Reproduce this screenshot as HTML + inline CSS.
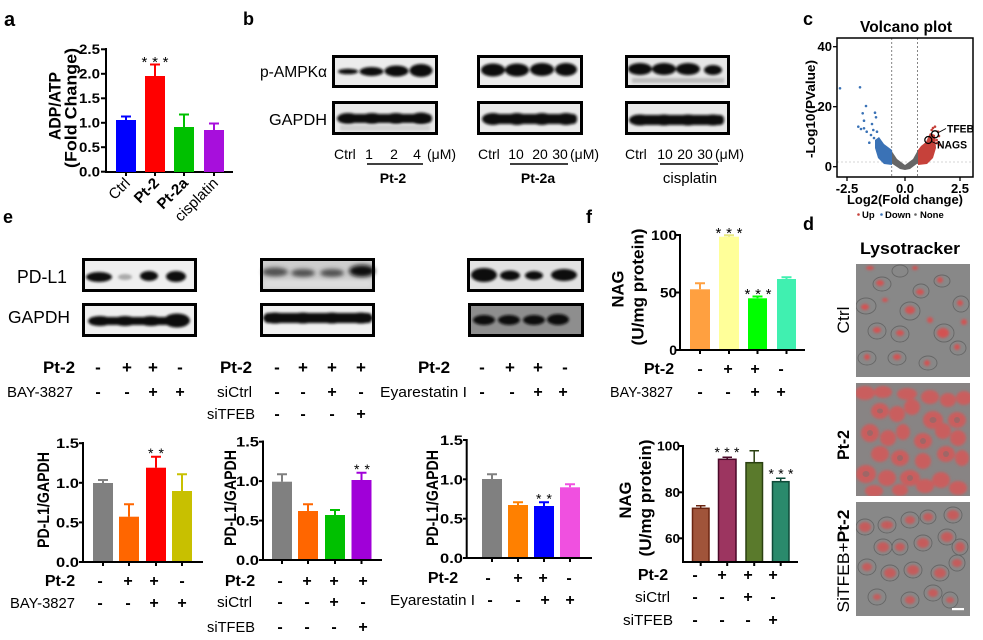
<!DOCTYPE html>
<html><head><meta charset="utf-8">
<style>
html,body{margin:0;padding:0;background:#fff;}
svg{display:block;}
text{font-family:"Liberation Sans",Arial,sans-serif;fill:#000;}
.b{font-weight:bold;}
</style></head>
<body>
<svg width="983" height="640" viewBox="0 0 983 640" xmlns="http://www.w3.org/2000/svg">
<defs>
<filter id="bl" x="-20%" y="-50%" width="140%" height="200%"><feGaussianBlur stdDeviation="1.2"/></filter>
<filter id="bl2" x="-20%" y="-50%" width="140%" height="200%"><feGaussianBlur stdDeviation="2.2"/></filter>
<clipPath id="c1"><rect x="856" y="264" width="114" height="113"/></clipPath>
<clipPath id="c2"><rect x="856" y="383" width="114" height="113"/></clipPath>
<clipPath id="c3"><rect x="856" y="502" width="114" height="114"/></clipPath>
</defs>

<!-- ================= PANEL a ================= -->
<text x="4" y="26" class="b" font-size="20">a</text>
<g stroke="#000" stroke-width="2">
<line x1="106" y1="48" x2="106" y2="173"/>
<line x1="105" y1="172" x2="233" y2="172"/>
<line x1="101" y1="49.3" x2="106" y2="49.3"/>
<line x1="101" y1="73.8" x2="106" y2="73.8"/>
<line x1="101" y1="98.3" x2="106" y2="98.3"/>
<line x1="101" y1="122.8" x2="106" y2="122.8"/>
<line x1="101" y1="147.2" x2="106" y2="147.2"/>
<line x1="101" y1="171.7" x2="106" y2="171.7"/>
<line x1="126" y1="172" x2="126" y2="176"/>
<line x1="155" y1="172" x2="155" y2="176"/>
<line x1="184" y1="172" x2="184" y2="176"/>
<line x1="214" y1="172" x2="214" y2="176"/>
</g>
<g class="b" font-size="13.5" text-anchor="end">
<text x="100" y="54" textLength="21" lengthAdjust="spacingAndGlyphs">2.5</text>
<text x="100" y="78.5" textLength="21" lengthAdjust="spacingAndGlyphs">2.0</text>
<text x="100" y="103" textLength="21" lengthAdjust="spacingAndGlyphs">1.5</text>
<text x="100" y="127.5" textLength="21" lengthAdjust="spacingAndGlyphs">1.0</text>
<text x="100" y="152" textLength="21" lengthAdjust="spacingAndGlyphs">0.5</text>
<text x="100" y="176.5" textLength="21" lengthAdjust="spacingAndGlyphs">0.0</text>
</g>
<rect x="116" y="120" width="20" height="52" fill="#0000ff"/>
<rect x="145" y="76" width="20" height="96" fill="#ff0000"/>
<rect x="174" y="127" width="20" height="45" fill="#00c000"/>
<rect x="204" y="130" width="20" height="42" fill="#a70fdc"/>
<g stroke-width="2">
<path d="M126 120V116.5M121 116.5H131" stroke="#0000ff"/>
<path d="M155 76V64.5M150 64.5H160" stroke="#ff0000"/>
<path d="M184 127V114.5M179 114.5H189" stroke="#00c000"/>
<path d="M214 130V123.5M209 123.5H219" stroke="#a70fdc"/>
</g>
<text x="155" y="67" font-size="15" text-anchor="middle" textLength="27" lengthAdjust="spacing">***</text>
<text transform="translate(55,106) scale(1.1,1) rotate(-90)" y="5" class="b" font-size="15" text-anchor="middle" textLength="68" lengthAdjust="spacingAndGlyphs">ADP/ATP</text>
<text transform="translate(71,108) scale(1.1,1) rotate(-90)" y="5" class="b" font-size="15" text-anchor="middle" textLength="120" lengthAdjust="spacingAndGlyphs">(Fold Change)</text>
<g font-size="15">
<text transform="translate(131,184) rotate(-45)" text-anchor="end">Ctrl</text>
<text transform="translate(160,184) rotate(-45)" text-anchor="end" class="b">Pt-2</text>
<text transform="translate(189,184) rotate(-45)" text-anchor="end" class="b">Pt-2a</text>
<text transform="translate(219,184) rotate(-45)" text-anchor="end">cisplatin</text>
</g>

<!-- ================= PANEL b ================= -->
<text x="243" y="25" class="b" font-size="18">b</text>
<text x="327" y="77" font-size="16" text-anchor="end" textLength="67" lengthAdjust="spacingAndGlyphs">p-AMPKα</text>
<text x="327" y="125" font-size="16" text-anchor="end" textLength="58" lengthAdjust="spacingAndGlyphs">GAPDH</text>
<!-- box1 -->
<rect x="333.5" y="56.5" width="103" height="30" fill="#ececec"/>
<g fill="#111" filter="url(#bl)">
<ellipse cx="348" cy="71.5" rx="10" ry="2.8"/>
<ellipse cx="371.5" cy="71.5" rx="12" ry="4.5"/>
<ellipse cx="396.5" cy="71" rx="12" ry="5.5"/>
<ellipse cx="421" cy="70.5" rx="11.5" ry="6.5"/>
</g>
<rect x="333.5" y="56.5" width="103" height="30" fill="none" stroke="#000" stroke-width="3"/>
<rect x="333.5" y="102.5" width="103" height="31" fill="#eaeaea"/>
<g fill="#111" filter="url(#bl)">
<rect x="339" y="114" width="93" height="9" rx="4"/>
<ellipse cx="348" cy="118.5" rx="11" ry="5.5"/>
<ellipse cx="372" cy="118.5" rx="11" ry="5.5"/>
<ellipse cx="396" cy="118.5" rx="11" ry="5.5"/>
<ellipse cx="421" cy="118.5" rx="11" ry="6"/>
</g>
<rect x="340" y="125" width="90" height="6" fill="#cfcfcf" filter="url(#bl)"/>
<rect x="333.5" y="102.5" width="103" height="31" fill="none" stroke="#000" stroke-width="3"/>
<!-- box2 -->
<rect x="478.5" y="56.5" width="103" height="30" fill="#ececec"/>
<g fill="#111" filter="url(#bl)">
<ellipse cx="493" cy="70" rx="12" ry="6.5"/>
<ellipse cx="517" cy="70" rx="12" ry="6.5"/>
<ellipse cx="542" cy="69.5" rx="12" ry="6.5"/>
<ellipse cx="566" cy="69.5" rx="11" ry="6.5"/>
</g>
<rect x="478.5" y="56.5" width="103" height="30" fill="none" stroke="#000" stroke-width="3"/>
<rect x="478.5" y="102.5" width="103" height="31" fill="#eaeaea"/>
<g fill="#111" filter="url(#bl)">
<rect x="484" y="114" width="93" height="10" rx="4"/>
<ellipse cx="493" cy="119" rx="11" ry="6"/>
<ellipse cx="517" cy="119" rx="11" ry="6"/>
<ellipse cx="542" cy="119" rx="11" ry="6"/>
<ellipse cx="566" cy="119" rx="11" ry="6"/>
</g>
<rect x="478.5" y="102.5" width="103" height="31" fill="none" stroke="#000" stroke-width="3"/>
<!-- box3 -->
<rect x="626.5" y="56.5" width="102" height="30" fill="#e6e6e6"/>
<g fill="#111" filter="url(#bl)">
<ellipse cx="640" cy="69" rx="12" ry="6"/>
<ellipse cx="664" cy="69" rx="12" ry="6"/>
<ellipse cx="688" cy="69" rx="12" ry="6"/>
<ellipse cx="713" cy="70" rx="9" ry="5"/>
</g>
<rect x="632" y="78" width="92" height="5" fill="#bbb" filter="url(#bl)"/>
<rect x="626.5" y="56.5" width="102" height="30" fill="none" stroke="#000" stroke-width="3"/>
<rect x="626.5" y="102.5" width="102" height="31" fill="#eaeaea"/>
<g fill="#111" filter="url(#bl)">
<rect x="632" y="115" width="92" height="10" rx="4"/>
<ellipse cx="640" cy="120" rx="11" ry="5.5"/>
<ellipse cx="664" cy="120" rx="11" ry="5.5"/>
<ellipse cx="688" cy="120" rx="11" ry="5.5"/>
<ellipse cx="713" cy="120" rx="11" ry="5.5"/>
</g>
<rect x="626.5" y="102.5" width="102" height="31" fill="none" stroke="#000" stroke-width="3"/>
<!-- b labels -->
<g font-size="14">
<text x="334" y="159">Ctrl</text><text x="369" y="159" text-anchor="middle">1</text><text x="394" y="159" text-anchor="middle">2</text><text x="417" y="159" text-anchor="middle">4</text><text x="427" y="159">(μM)</text>
<text x="478" y="159">Ctrl</text><text x="516" y="159" text-anchor="middle">10</text><text x="540" y="159" text-anchor="middle">20</text><text x="560" y="159" text-anchor="middle">30</text><text x="570" y="159">(μM)</text>
<text x="625" y="159">Ctrl</text><text x="665" y="159" text-anchor="middle">10</text><text x="685" y="159" text-anchor="middle">20</text><text x="705" y="159" text-anchor="middle">30</text><text x="715" y="159">(μM)</text>
</g>
<g stroke="#000" stroke-width="1.5">
<line x1="367" y1="164" x2="423" y2="164"/>
<line x1="510" y1="164" x2="568" y2="164"/>
<line x1="660" y1="164" x2="718" y2="164"/>
</g>
<text x="393" y="183" class="b" font-size="14" text-anchor="middle">Pt-2</text>
<text x="538" y="183" class="b" font-size="14" text-anchor="middle">Pt-2a</text>
<text x="690" y="183" font-size="15" text-anchor="middle">cisplatin</text>

<!-- ================= PANEL c ================= -->
<text x="803" y="25" class="b" font-size="18">c</text>
<text x="906" y="32" class="b" font-size="15.5" text-anchor="middle" textLength="92" lengthAdjust="spacingAndGlyphs">Volcano plot</text>
<line x1="837" y1="162" x2="973" y2="162" stroke="#c8c8c8" stroke-width="0.8" stroke-dasharray="2,2"/>
<line x1="891.7" y1="38" x2="891.7" y2="177" stroke="#777" stroke-width="0.9" stroke-dasharray="2,2"/>
<line x1="917.5" y1="38" x2="917.5" y2="177" stroke="#777" stroke-width="0.9" stroke-dasharray="2,2"/>
<polygon points="891,150 897,159 905,165 913,159 918,150 918,163 910,169 905,170 900,169 891,163" fill="#666"/>
<polygon points="892,150 892,165 884,164 878,158 875,148 875,140 879,137 884,144 888,147" fill="#3a72b6"/>
<polygon points="918,150 918,165 927,164 933,158 936,148 935,135 930,133 926,142 921,146" fill="#c6413a"/>
<g fill="#3a72b6">
<circle cx="840" cy="88.3" r="1.3"/><circle cx="860" cy="87.3" r="1.3"/><circle cx="866" cy="106" r="1.3"/>
<circle cx="862.7" cy="113.3" r="1.3"/><circle cx="875" cy="112.7" r="1.3"/><circle cx="876" cy="117.3" r="1.3"/>
<circle cx="864" cy="120.7" r="1.3"/><circle cx="858.3" cy="126.7" r="1.3"/><circle cx="864" cy="128.3" r="1.3"/>
<circle cx="873.3" cy="130" r="1.3"/><circle cx="869.3" cy="142.7" r="1.3"/><circle cx="877" cy="131.7" r="1.3"/>
<circle cx="866.7" cy="131.7" r="1.3"/><circle cx="871" cy="135" r="1.3"/><circle cx="874" cy="138" r="1.3"/>
<circle cx="861" cy="129" r="1.3"/><circle cx="872" cy="124" r="1.3"/>
</g>
<g fill="#c6413a">
<circle cx="935" cy="126.7" r="1.3"/><circle cx="938" cy="131.7" r="1.3"/><circle cx="931.7" cy="130" r="1.3"/>
<circle cx="936.7" cy="140" r="1.3"/><circle cx="940" cy="145" r="1.3"/><circle cx="933" cy="128" r="1.3"/>
<circle cx="939" cy="136" r="1.3"/><circle cx="937" cy="143" r="1.3"/>
</g>
<circle cx="935" cy="134.3" r="3.5" fill="none" stroke="#000" stroke-width="1.3"/>
<circle cx="928.3" cy="140" r="3.5" fill="none" stroke="#000" stroke-width="1.3"/>
<line x1="938.5" y1="132.5" x2="946" y2="128.5" stroke="#000" stroke-width="0.8"/>
<line x1="931.5" y1="141.5" x2="937" y2="144" stroke="#000" stroke-width="0.8"/>
<text x="947" y="132.5" class="b" font-size="11" textLength="27" lengthAdjust="spacingAndGlyphs">TFEB</text>
<text x="937" y="148.5" class="b" font-size="11" textLength="30" lengthAdjust="spacingAndGlyphs">NAGS</text>
<rect x="837" y="38" width="136" height="139" fill="none" stroke="#000" stroke-width="1.5"/>
<g stroke="#000" stroke-width="1.3">
<line x1="833" y1="46.7" x2="837" y2="46.7"/><line x1="833" y1="106.7" x2="837" y2="106.7"/><line x1="833" y1="166.7" x2="837" y2="166.7"/>
<line x1="847" y1="177" x2="847" y2="181"/><line x1="905" y1="177" x2="905" y2="181"/><line x1="960" y1="177" x2="960" y2="181"/>
</g>
<g class="b" font-size="13">
<text x="832" y="51" text-anchor="end">40</text>
<text x="832" y="111" text-anchor="end">20</text>
<text x="832" y="171" text-anchor="end">0</text>
<text x="847" y="193" text-anchor="middle">-2.5</text>
<text x="905" y="193" text-anchor="middle">0.0</text>
<text x="960" y="193" text-anchor="middle">2.5</text>
</g>
<text x="905" y="204" class="b" font-size="13" text-anchor="middle" textLength="116" lengthAdjust="spacingAndGlyphs">Log2(Fold change)</text>
<text transform="translate(810,109) rotate(-90)" y="5" class="b" font-size="13" text-anchor="middle" textLength="98" lengthAdjust="spacingAndGlyphs">-Log10(PValue)</text>
<circle cx="858.5" cy="214.5" r="1.3" fill="#c6413a"/>
<circle cx="881.5" cy="214.5" r="1.3" fill="#3a72b6"/>
<circle cx="915.5" cy="214.5" r="1.3" fill="#666"/>
<g class="b" font-size="9.5">
<text x="862" y="218">Up</text><text x="885" y="218">Down</text><text x="920" y="218">None</text>
</g>

<!-- ================= PANEL e ================= -->
<text x="3" y="223" class="b" font-size="18">e</text>
<text x="67" y="283" font-size="18" text-anchor="end" textLength="50" lengthAdjust="spacingAndGlyphs">PD-L1</text>
<text x="70" y="323" font-size="17.5" text-anchor="end" textLength="62" lengthAdjust="spacingAndGlyphs">GAPDH</text>
<!-- e box1 -->
<rect x="83.5" y="259.5" width="112" height="31" fill="#efefef"/>
<g fill="#111" filter="url(#bl)">
<ellipse cx="99" cy="277" rx="13" ry="5"/>
<ellipse cx="149" cy="276" rx="9" ry="5"/>
<ellipse cx="176" cy="276.5" rx="10" ry="5.5"/>
</g>
<ellipse cx="125" cy="277" rx="7" ry="3" fill="#aaa" filter="url(#bl)"/>
<rect x="83.5" y="259.5" width="112" height="31" fill="none" stroke="#000" stroke-width="3"/>
<rect x="83.5" y="304.5" width="112" height="31" fill="#efefef"/>
<g fill="#111" filter="url(#bl)">
<rect x="89" y="317" width="100" height="8" rx="4"/>
<ellipse cx="100" cy="321" rx="12" ry="5"/>
<ellipse cx="125" cy="321" rx="12" ry="5"/>
<ellipse cx="151" cy="321" rx="12" ry="5"/>
<ellipse cx="177" cy="320.5" rx="13" ry="7"/>
</g>
<rect x="83.5" y="304.5" width="112" height="31" fill="none" stroke="#000" stroke-width="3"/>
<!-- e box2 -->
<rect x="261.5" y="259.5" width="112" height="31" fill="#cdcdcd"/>
<g fill="#333" filter="url(#bl2)" opacity="0.8">
<ellipse cx="275" cy="272" rx="13" ry="4.5"/>
<ellipse cx="303" cy="273" rx="12" ry="4"/>
<ellipse cx="332" cy="273" rx="12" ry="4"/>
</g>
<ellipse cx="362" cy="271" rx="13" ry="6" fill="#111" filter="url(#bl2)"/>
<rect x="263" y="280" width="109" height="8" fill="#e8e8e8" opacity="0.6" filter="url(#bl2)"/>
<rect x="261.5" y="259.5" width="112" height="31" fill="none" stroke="#000" stroke-width="3"/>
<rect x="261.5" y="304.5" width="112" height="31" fill="#f0f0f0"/>
<g fill="#111" filter="url(#bl)">
<rect x="264" y="313" width="108" height="10" rx="4"/>
<ellipse cx="275" cy="318" rx="12" ry="5.5"/>
<ellipse cx="303" cy="318" rx="12" ry="5.5"/>
<ellipse cx="332" cy="318" rx="12" ry="5.5"/>
<ellipse cx="361" cy="318" rx="12" ry="5.5"/>
</g>
<rect x="261.5" y="304.5" width="112" height="31" fill="none" stroke="#000" stroke-width="3"/>
<!-- e box3 -->
<rect x="468.5" y="259.5" width="114" height="31" fill="#e2e2e2"/>
<g fill="#111" filter="url(#bl)">
<ellipse cx="484" cy="275" rx="13" ry="7"/>
<ellipse cx="510" cy="275.5" rx="10" ry="5"/>
<ellipse cx="534" cy="275.5" rx="9" ry="4.5"/>
<ellipse cx="564" cy="275" rx="13" ry="6"/>
</g>
<rect x="468.5" y="259.5" width="114" height="31" fill="none" stroke="#000" stroke-width="3"/>
<rect x="469.5" y="304.5" width="113" height="31" fill="#8e8e8e"/>
<g fill="#111" filter="url(#bl)">
<ellipse cx="484" cy="320" rx="11" ry="5"/>
<ellipse cx="509" cy="320" rx="11" ry="5"/>
<ellipse cx="534" cy="320" rx="11" ry="5"/>
<ellipse cx="558" cy="319.5" rx="11" ry="5.5"/>
</g>
<rect x="469.5" y="304.5" width="113" height="31" fill="none" stroke="#000" stroke-width="3"/>
<!-- e condition rows (top) -->
<g class="b" font-size="17" text-anchor="middle">
<text x="59" y="373">Pt-2</text>
<text x="98" y="373">-</text><text x="127" y="373">+</text><text x="153" y="373">+</text><text x="180" y="373">-</text>
<text x="236" y="373">Pt-2</text>
<text x="277" y="373">-</text><text x="303" y="373">+</text><text x="332" y="373">+</text><text x="361" y="373">+</text>
<text x="434" y="373">Pt-2</text>
<text x="482" y="373">-</text><text x="510" y="373">+</text><text x="538" y="373">+</text><text x="565" y="373">-</text>
</g>
<g font-size="15" text-anchor="end">
<text x="73" y="397" textLength="66" lengthAdjust="spacingAndGlyphs">BAY-3827</text>
<text x="252" y="397" textLength="35" lengthAdjust="spacingAndGlyphs">siCtrl</text>
<text x="255" y="419" textLength="48" lengthAdjust="spacingAndGlyphs">siTFEB</text>
<text x="467" y="397" textLength="87" lengthAdjust="spacingAndGlyphs">Eyarestatin I</text>
</g>
<g class="b" font-size="16" text-anchor="middle">
<text x="98" y="397">-</text><text x="127" y="397">-</text><text x="153" y="397">+</text><text x="180" y="397">+</text>
<text x="277" y="397">-</text><text x="303" y="397">-</text><text x="332" y="397">+</text><text x="361" y="397">-</text>
<text x="277" y="419">-</text><text x="303" y="419">-</text><text x="332" y="419">-</text><text x="361" y="419">+</text>
<text x="482" y="397">-</text><text x="512" y="397">-</text><text x="538" y="397">+</text><text x="563" y="397">+</text>
</g>

<!-- e chart1 -->
<rect x="93" y="483" width="20" height="79" fill="#808080"/>
<rect x="119" y="516.7" width="20" height="45.3" fill="#ff6600"/>
<rect x="146" y="467.7" width="20" height="94.3" fill="#ff0000"/>
<rect x="172" y="491" width="20" height="71" fill="#c8c000"/>
<g stroke-width="2">
<path d="M103 483V480M98 480H108" stroke="#808080"/>
<path d="M129 516.7V504.3M124 504.3H134" stroke="#ff6600"/>
<path d="M156 467.7V456.7M151 456.7H161" stroke="#ff0000"/>
<path d="M182 491V474.3M177 474.3H187" stroke="#c8c000"/>
</g>
<g stroke="#000" stroke-width="2">
<line x1="83" y1="442" x2="83" y2="563"/>
<line x1="82" y1="562" x2="203" y2="562"/>
<line x1="79" y1="443.2" x2="83" y2="443.2"/><line x1="79" y1="482.8" x2="83" y2="482.8"/>
<line x1="79" y1="522.4" x2="83" y2="522.4"/><line x1="79" y1="562" x2="83" y2="562"/>
<line x1="103" y1="562" x2="103" y2="566"/><line x1="129" y1="562" x2="129" y2="566"/>
<line x1="156" y1="562" x2="156" y2="566"/><line x1="182" y1="562" x2="182" y2="566"/>
</g>
<g class="b" font-size="14" text-anchor="end">
<text x="79" y="448.2" textLength="23" lengthAdjust="spacingAndGlyphs">1.5</text>
<text x="79" y="487.8" textLength="23" lengthAdjust="spacingAndGlyphs">1.0</text>
<text x="79" y="527.4" textLength="23" lengthAdjust="spacingAndGlyphs">0.5</text>
<text x="79" y="567" textLength="23" lengthAdjust="spacingAndGlyphs">0.0</text>
</g>
<text x="156" y="458" font-size="14" text-anchor="middle" textLength="16" lengthAdjust="spacing">**</text>
<text transform="translate(43,500) scale(1.2,1) rotate(-90)" y="5" class="b" font-size="14" text-anchor="middle" textLength="96" lengthAdjust="spacingAndGlyphs">PD-L1/GAPDH</text>

<!-- e chart2 -->
<rect x="272" y="481.7" width="20" height="78.3" fill="#808080"/>
<rect x="298" y="511" width="20" height="49" fill="#ff6600"/>
<rect x="325" y="515" width="20" height="45" fill="#00c000"/>
<rect x="351.5" y="480" width="20" height="80" fill="#a000d8"/>
<g stroke-width="2">
<path d="M282 481.7V474.3M277 474.3H287" stroke="#808080"/>
<path d="M308 511V504.3M303 504.3H313" stroke="#ff6600"/>
<path d="M335 515V510M330 510H340" stroke="#00c000"/>
<path d="M361.5 480V472.7M356.5 472.7H366.5" stroke="#a000d8"/>
</g>
<g stroke="#000" stroke-width="2">
<line x1="263" y1="440.5" x2="263" y2="561"/>
<line x1="262" y1="560" x2="382" y2="560"/>
<line x1="259" y1="441.7" x2="263" y2="441.7"/><line x1="259" y1="481.1" x2="263" y2="481.1"/>
<line x1="259" y1="520.6" x2="263" y2="520.6"/><line x1="259" y1="560" x2="263" y2="560"/>
<line x1="282" y1="560" x2="282" y2="564"/><line x1="308" y1="560" x2="308" y2="564"/>
<line x1="335" y1="560" x2="335" y2="564"/><line x1="361.5" y1="560" x2="361.5" y2="564"/>
</g>
<g class="b" font-size="14" text-anchor="end">
<text x="259" y="446.7" textLength="23" lengthAdjust="spacingAndGlyphs">1.5</text>
<text x="259" y="486.1" textLength="23" lengthAdjust="spacingAndGlyphs">1.0</text>
<text x="259" y="525.6" textLength="23" lengthAdjust="spacingAndGlyphs">0.5</text>
<text x="259" y="565" textLength="23" lengthAdjust="spacingAndGlyphs">0.0</text>
</g>
<text x="362" y="474" font-size="14" text-anchor="middle" textLength="16" lengthAdjust="spacing">**</text>
<text transform="translate(230,498) scale(1.2,1) rotate(-90)" y="5" class="b" font-size="14" text-anchor="middle" textLength="96" lengthAdjust="spacingAndGlyphs">PD-L1/GAPDH</text>

<!-- e chart3 -->
<rect x="482" y="479" width="20" height="79" fill="#808080"/>
<rect x="508" y="505" width="20" height="53" fill="#ff8000"/>
<rect x="534" y="506" width="20" height="52" fill="#0000ff"/>
<rect x="560" y="487.3" width="20" height="70.7" fill="#f050e0"/>
<g stroke-width="2">
<path d="M492 479V474.3M487 474.3H497" stroke="#808080"/>
<path d="M518 505V502.3M513 502.3H523" stroke="#ff8000"/>
<path d="M544 506V502.3M539 502.3H549" stroke="#0000ff"/>
<path d="M570 487.3V484.3M565 484.3H575" stroke="#f050e0"/>
</g>
<g stroke="#000" stroke-width="2">
<line x1="466.7" y1="439" x2="466.7" y2="559"/>
<line x1="466" y1="558" x2="592" y2="558"/>
<line x1="463" y1="440" x2="466.7" y2="440"/><line x1="463" y1="479.3" x2="466.7" y2="479.3"/>
<line x1="463" y1="518.7" x2="466.7" y2="518.7"/><line x1="463" y1="558" x2="466.7" y2="558"/>
<line x1="492" y1="558" x2="492" y2="562"/><line x1="518" y1="558" x2="518" y2="562"/>
<line x1="544" y1="558" x2="544" y2="562"/><line x1="570" y1="558" x2="570" y2="562"/>
</g>
<g class="b" font-size="14" text-anchor="end">
<text x="463" y="445" textLength="23" lengthAdjust="spacingAndGlyphs">1.5</text>
<text x="463" y="484.3" textLength="23" lengthAdjust="spacingAndGlyphs">1.0</text>
<text x="463" y="523.7" textLength="23" lengthAdjust="spacingAndGlyphs">0.5</text>
<text x="463" y="563" textLength="23" lengthAdjust="spacingAndGlyphs">0.0</text>
</g>
<text x="544" y="503.5" font-size="14" text-anchor="middle" textLength="16" lengthAdjust="spacing">**</text>
<text transform="translate(432,498) scale(1.2,1) rotate(-90)" y="5" class="b" font-size="14" text-anchor="middle" textLength="96" lengthAdjust="spacingAndGlyphs">PD-L1/GAPDH</text>

<!-- e bottom rows -->
<g class="b" font-size="16" text-anchor="middle">
<text x="60" y="586">Pt-2</text>
<text x="100" y="586">-</text><text x="128" y="586">+</text><text x="154" y="586">+</text><text x="182" y="586">-</text>
<text x="240" y="586">Pt-2</text>
<text x="280" y="586">-</text><text x="307" y="586">+</text><text x="334" y="586">+</text><text x="363" y="586">+</text>
<text x="443" y="583">Pt-2</text>
<text x="488" y="583">-</text><text x="518" y="583">+</text><text x="543" y="583">+</text><text x="569" y="583">-</text>
</g>
<g font-size="14.5" text-anchor="end">
<text x="75" y="608" textLength="65" lengthAdjust="spacingAndGlyphs">BAY-3827</text>
<text x="252" y="607" textLength="35" lengthAdjust="spacingAndGlyphs">siCtrl</text>
<text x="255" y="632" textLength="48" lengthAdjust="spacingAndGlyphs">siTFEB</text>
<text x="475" y="605" textLength="85" lengthAdjust="spacingAndGlyphs">Eyarestatin I</text>
</g>
<g class="b" font-size="16" text-anchor="middle">
<text x="100" y="608">-</text><text x="128" y="608">-</text><text x="154" y="608">+</text><text x="182" y="608">+</text>
<text x="280" y="607">-</text><text x="307" y="607">-</text><text x="334" y="607">+</text><text x="363" y="607">-</text>
<text x="280" y="632">-</text><text x="307" y="632">-</text><text x="334" y="632">-</text><text x="363" y="632">+</text>
<text x="490" y="605">-</text><text x="518" y="605">-</text><text x="545" y="605">+</text><text x="570" y="605">+</text>
</g>

<!-- ================= PANEL f ================= -->
<text x="586" y="223" class="b" font-size="18">f</text>
<!-- f chart1 -->
<rect x="690" y="289.3" width="20" height="60.7" fill="#ffa040"/>
<rect x="719" y="236.7" width="20" height="113.3" fill="#ffff99"/>
<rect x="748" y="298.3" width="19" height="51.7" fill="#00ff00"/>
<rect x="777" y="279" width="19" height="71" fill="#40f0b0"/>
<g stroke-width="2">
<path d="M700 289.3V283.3M695 283.3H705" stroke="#ffa040"/>
<path d="M729 236.7V235.2M724 235.2H734" stroke="#e8e880"/>
<path d="M757.5 298.3V296.5M752.5 296.5H762.5" stroke="#00ff00"/>
<path d="M786.5 279V277.3M781.5 277.3H791.5" stroke="#40f0b0"/>
</g>
<g stroke="#000" stroke-width="2">
<line x1="680" y1="234" x2="680" y2="351"/>
<line x1="679" y1="350" x2="805" y2="350"/>
<line x1="676" y1="235" x2="680" y2="235"/><line x1="676" y1="292.5" x2="680" y2="292.5"/><line x1="676" y1="350" x2="680" y2="350"/>
<line x1="700" y1="350" x2="700" y2="354"/><line x1="729" y1="350" x2="729" y2="354"/>
<line x1="757.5" y1="350" x2="757.5" y2="354"/><line x1="786.5" y1="350" x2="786.5" y2="354"/>
</g>
<g class="b" font-size="14" text-anchor="end">
<text x="677" y="240" textLength="26" lengthAdjust="spacingAndGlyphs">100</text>
<text x="677" y="297.5" textLength="17" lengthAdjust="spacingAndGlyphs">50</text>
<text x="677" y="355">0</text>
</g>
<text x="729" y="238" font-size="15" text-anchor="middle" textLength="27" lengthAdjust="spacing">***</text>
<text x="758" y="299" font-size="15" text-anchor="middle" textLength="27" lengthAdjust="spacing">***</text>
<text transform="translate(617.5,289) rotate(-90)" y="6" class="b" font-size="17" text-anchor="middle" textLength="37" lengthAdjust="spacingAndGlyphs">NAG</text>
<text transform="translate(637.5,287) rotate(-90)" y="6" class="b" font-size="17" text-anchor="middle" textLength="117" lengthAdjust="spacingAndGlyphs">(U/mg protein)</text>
<g class="b" font-size="16" text-anchor="middle">
<text x="659" y="374">Pt-2</text>
<text x="700" y="374">-</text><text x="728" y="374">+</text><text x="755" y="374">+</text><text x="781" y="374">-</text>
<text x="700" y="397">-</text><text x="728" y="397">-</text><text x="755" y="397">+</text><text x="781" y="397">+</text>
</g>
<text x="673" y="397" font-size="14.5" text-anchor="end" textLength="63" lengthAdjust="spacingAndGlyphs">BAY-3827</text>

<!-- f chart2 -->
<g stroke-width="1.5">
<rect x="692.5" y="508.3" width="16.5" height="53.7" fill="#a0543a" stroke="#6a2410"/>
<rect x="718.5" y="459.3" width="17.5" height="102.7" fill="#9c3560" stroke="#4a0828"/>
<rect x="746" y="462.7" width="16.5" height="99.3" fill="#5a7a2c" stroke="#2a4010"/>
<rect x="772.5" y="481.7" width="16.5" height="80.3" fill="#2a8a6c" stroke="#0e4a38"/>
<path d="M700.7 508.3V505.7M696 505.7H705.5" stroke="#6a2410" fill="none"/>
<path d="M727.2 459.3V457.3M722.5 457.3H732" stroke="#4a0828" fill="none"/>
<path d="M754.2 462.7V450.7M749.5 450.7H759" stroke="#2a4010" fill="none"/>
<path d="M780.7 481.7V478.3M776 478.3H785.5" stroke="#0e4a38" fill="none"/>
</g>
<g stroke="#000" stroke-width="2">
<line x1="683" y1="445" x2="683" y2="563"/>
<line x1="682" y1="562" x2="798" y2="562"/>
<line x1="679" y1="446" x2="683" y2="446"/><line x1="679" y1="492.3" x2="683" y2="492.3"/><line x1="679" y1="538.3" x2="683" y2="538.3"/>
<line x1="700.7" y1="562" x2="700.7" y2="566"/><line x1="727.2" y1="562" x2="727.2" y2="566"/>
<line x1="754.2" y1="562" x2="754.2" y2="566"/><line x1="780.7" y1="562" x2="780.7" y2="566"/>
</g>
<g class="b" font-size="12.5" text-anchor="end">
<text x="680" y="450.5" textLength="23" lengthAdjust="spacingAndGlyphs">100</text>
<text x="680" y="497" textLength="15" lengthAdjust="spacingAndGlyphs">80</text>
<text x="680" y="543" textLength="15" lengthAdjust="spacingAndGlyphs">60</text>
</g>
<text x="727" y="457" font-size="14" text-anchor="middle" textLength="25" lengthAdjust="spacing">***</text>
<text x="781" y="478.5" font-size="14" text-anchor="middle" textLength="25" lengthAdjust="spacing">***</text>
<text transform="translate(625,500) rotate(-90)" y="6" class="b" font-size="17" text-anchor="middle" textLength="37" lengthAdjust="spacingAndGlyphs">NAG</text>
<text transform="translate(645,498) rotate(-90)" y="6" class="b" font-size="17" text-anchor="middle" textLength="117" lengthAdjust="spacingAndGlyphs">(U/mg protein)</text>
<g class="b" font-size="16" text-anchor="middle">
<text x="653" y="580">Pt-2</text>
<text x="695" y="580">-</text><text x="722" y="580">+</text><text x="748" y="580">+</text><text x="773" y="580">+</text>
<text x="695" y="602">-</text><text x="722" y="602">-</text><text x="748" y="602">+</text><text x="773" y="602">-</text>
<text x="695" y="625">-</text><text x="722" y="625">-</text><text x="748" y="625">-</text><text x="773" y="625">+</text>
</g>
<g font-size="14.5" text-anchor="end">
<text x="670" y="602" textLength="35" lengthAdjust="spacingAndGlyphs">siCtrl</text>
<text x="673" y="625" textLength="50" lengthAdjust="spacingAndGlyphs">siTFEB</text>
</g>

<!-- ================= PANEL d ================= -->
<text x="803" y="230" class="b" font-size="18">d</text>
<text x="910" y="254" class="b" font-size="17" text-anchor="middle" textLength="100" lengthAdjust="spacingAndGlyphs">Lysotracker</text>
<text transform="translate(843,320) rotate(-90)" y="6" font-size="17" text-anchor="middle" textLength="27" lengthAdjust="spacingAndGlyphs">Ctrl</text>
<text transform="translate(843,445) rotate(-90)" y="6" class="b" font-size="17" text-anchor="middle" textLength="30" lengthAdjust="spacingAndGlyphs">Pt-2</text>
<text transform="translate(843,561) rotate(-90)" y="6" font-size="17" text-anchor="middle" textLength="103" lengthAdjust="spacingAndGlyphs">SiTFEB+<tspan class="b">Pt-2</tspan></text>

<!-- image 1 Ctrl -->
<g clip-path="url(#c1)">
<rect x="856" y="264" width="114" height="113" fill="#888888"/>
<g fill="none" stroke="#5e5e5e" stroke-width="0.9" opacity="0.8">
<ellipse cx="866" cy="306" rx="10" ry="8"/><ellipse cx="882" cy="284" rx="9" ry="7"/><ellipse cx="910" cy="311" rx="10" ry="9"/>
<ellipse cx="921" cy="291" rx="8" ry="7"/><ellipse cx="942" cy="281" rx="8" ry="6"/><ellipse cx="944" cy="333" rx="10" ry="9"/>
<ellipse cx="900" cy="334" rx="9" ry="8"/><ellipse cx="877" cy="331" rx="9" ry="8"/><ellipse cx="867" cy="358" rx="9" ry="7"/>
<ellipse cx="897" cy="358" rx="9" ry="7"/><ellipse cx="928" cy="363" rx="9" ry="7"/><ellipse cx="961" cy="304" rx="8" ry="8"/>
<ellipse cx="958" cy="348" rx="8" ry="7"/><ellipse cx="900" cy="271" rx="8" ry="6"/>
</g>
<g fill="#e04a4a" opacity="0.85" filter="url(#bl)">
<ellipse cx="865" cy="307" rx="4" ry="3"/><ellipse cx="880" cy="283" rx="4" ry="3"/><ellipse cx="910" cy="310" rx="5" ry="4"/>
<ellipse cx="920" cy="292" rx="4" ry="3"/><ellipse cx="940" cy="280" rx="3" ry="3"/><ellipse cx="943" cy="333" rx="6" ry="5"/>
<ellipse cx="900" cy="333" rx="4" ry="3"/><ellipse cx="877" cy="330" rx="4" ry="3"/><ellipse cx="867" cy="357" rx="3" ry="3"/>
<ellipse cx="897" cy="357" rx="4" ry="3"/><ellipse cx="927" cy="363" rx="3" ry="3"/><ellipse cx="960" cy="303" rx="3" ry="3"/>
<ellipse cx="957" cy="347" rx="3" ry="3"/><ellipse cx="885" cy="300" rx="3" ry="2"/><ellipse cx="930" cy="320" rx="3" ry="3"/>
<ellipse cx="870" cy="268" rx="4" ry="2"/><ellipse cx="915" cy="268" rx="3" ry="2"/><ellipse cx="964" cy="322" rx="3" ry="3"/>
</g>
</g>

<!-- image 2 Pt-2 -->
<g clip-path="url(#c2)">
<rect x="856" y="383" width="114" height="113" fill="#888484"/>
<g fill="#d85656" opacity="0.82" filter="url(#bl)">
<ellipse cx="865" cy="393" rx="10" ry="7"/><ellipse cx="883" cy="392" rx="9" ry="6"/><ellipse cx="907" cy="394" rx="10" ry="6"/>
<ellipse cx="930" cy="397" rx="9" ry="7"/><ellipse cx="948" cy="400" rx="8" ry="7"/><ellipse cx="964" cy="398" rx="8" ry="7"/>
<ellipse cx="880" cy="411" rx="9" ry="8"/><ellipse cx="897" cy="414" rx="8" ry="8"/><ellipse cx="912" cy="407" rx="8" ry="8"/>
<ellipse cx="933" cy="420" rx="10" ry="9"/><ellipse cx="957" cy="420" rx="9" ry="8"/><ellipse cx="870" cy="433" rx="9" ry="9"/>
<ellipse cx="888" cy="438" rx="8" ry="8"/><ellipse cx="903" cy="432" rx="7" ry="8"/><ellipse cx="923" cy="441" rx="9" ry="8"/>
<ellipse cx="943" cy="431" rx="8" ry="8"/><ellipse cx="958" cy="438" rx="8" ry="8"/><ellipse cx="880" cy="454" rx="9" ry="8"/>
<ellipse cx="900" cy="458" rx="9" ry="8"/><ellipse cx="923" cy="461" rx="8" ry="8"/><ellipse cx="946" cy="454" rx="9" ry="8"/>
<ellipse cx="962" cy="458" rx="7" ry="8"/><ellipse cx="866" cy="474" rx="10" ry="9"/><ellipse cx="887" cy="478" rx="9" ry="8"/>
<ellipse cx="910" cy="478" rx="10" ry="8"/><ellipse cx="925" cy="486" rx="9" ry="7"/><ellipse cx="941" cy="480" rx="9" ry="8"/>
<ellipse cx="958" cy="488" rx="9" ry="7"/><ellipse cx="874" cy="491" rx="9" ry="6"/><ellipse cx="900" cy="490" rx="8" ry="6"/>
</g>
<g fill="#8e6a6a" opacity="0.7">
<ellipse cx="880" cy="411" rx="3" ry="2.5"/><ellipse cx="933" cy="420" rx="3.5" ry="3"/><ellipse cx="870" cy="433" rx="3" ry="3"/>
<ellipse cx="923" cy="441" rx="3" ry="3"/><ellipse cx="900" cy="458" rx="3" ry="3"/><ellipse cx="946" cy="454" rx="3" ry="3"/>
<ellipse cx="866" cy="474" rx="3.5" ry="3"/><ellipse cx="910" cy="478" rx="3" ry="3"/><ellipse cx="957" cy="420" rx="3" ry="3"/>
</g>
</g>

<!-- image 3 SiTFEB+Pt-2 -->
<g clip-path="url(#c3)">
<rect x="856" y="502" width="114" height="114" fill="#888888"/>
<g fill="none" stroke="#5e5e5e" stroke-width="0.9" opacity="0.8">
<ellipse cx="865" cy="527" rx="9" ry="8"/><ellipse cx="887" cy="525" rx="9" ry="8"/><ellipse cx="910" cy="520" rx="9" ry="8"/>
<ellipse cx="928" cy="517" rx="8" ry="7"/><ellipse cx="953" cy="515" rx="9" ry="8"/><ellipse cx="883" cy="547" rx="9" ry="8"/>
<ellipse cx="900" cy="547" rx="8" ry="8"/><ellipse cx="923" cy="543" rx="9" ry="8"/><ellipse cx="947" cy="537" rx="9" ry="8"/>
<ellipse cx="960" cy="547" rx="8" ry="8"/><ellipse cx="867" cy="567" rx="9" ry="8"/><ellipse cx="890" cy="573" rx="9" ry="8"/>
<ellipse cx="913" cy="570" rx="9" ry="8"/><ellipse cx="940" cy="573" rx="9" ry="8"/><ellipse cx="957" cy="563" rx="8" ry="8"/>
<ellipse cx="877" cy="597" rx="9" ry="8"/><ellipse cx="910" cy="600" rx="9" ry="8"/><ellipse cx="933" cy="593" rx="9" ry="8"/>
<ellipse cx="950" cy="600" rx="8" ry="8"/>
</g>
<g fill="#e04a4a" opacity="0.7" filter="url(#bl)">
<ellipse cx="865" cy="527" rx="6" ry="5"/><ellipse cx="887" cy="525" rx="6" ry="4"/><ellipse cx="910" cy="520" rx="5" ry="4"/>
<ellipse cx="928" cy="517" rx="5" ry="4"/><ellipse cx="953" cy="515" rx="6" ry="5"/><ellipse cx="883" cy="547" rx="6" ry="5"/>
<ellipse cx="900" cy="547" rx="5" ry="4"/><ellipse cx="923" cy="543" rx="6" ry="5"/><ellipse cx="947" cy="537" rx="6" ry="5"/>
<ellipse cx="960" cy="547" rx="5" ry="5"/><ellipse cx="867" cy="567" rx="5" ry="4"/><ellipse cx="890" cy="573" rx="6" ry="5"/>
<ellipse cx="913" cy="570" rx="6" ry="5"/><ellipse cx="940" cy="573" rx="6" ry="5"/><ellipse cx="957" cy="563" rx="5" ry="4"/>
<ellipse cx="877" cy="597" rx="4" ry="3"/><ellipse cx="910" cy="600" rx="5" ry="4"/><ellipse cx="933" cy="593" rx="5" ry="4"/>
<ellipse cx="950" cy="600" rx="4" ry="3"/>
</g>
<rect x="952" y="608" width="12" height="2.2" fill="#fff"/>
</g>
</svg>
</body></html>
